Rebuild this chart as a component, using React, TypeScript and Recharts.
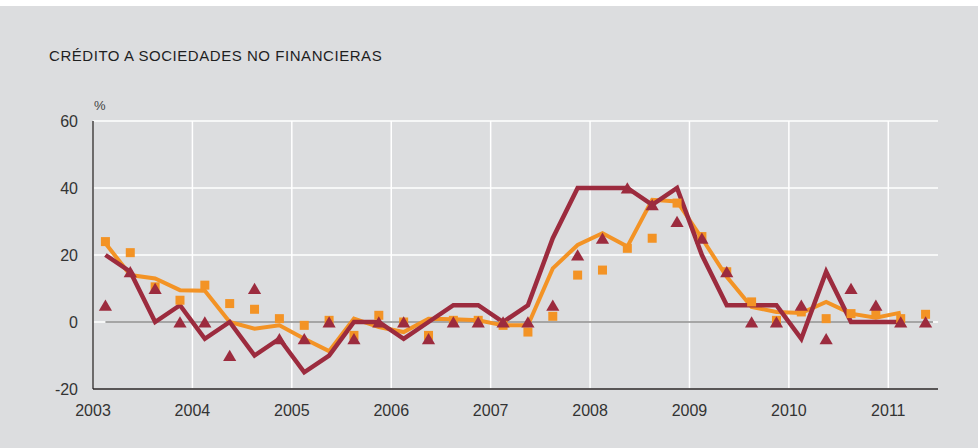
import {
  ComposedChart,
  Line,
  Scatter,
  XAxis,
  YAxis,
  CartesianGrid,
  ReferenceLine,
} from 'recharts';

const years = [2003, 2004, 2005, 2006, 2007, 2008, 2009, 2010, 2011];
const yTicks = [-20, 0, 20, 40, 60];

// quarterly observations, first one in Q1 2003
const firstQuarter = 2003.125;

const orangeLine = [
  23.5, 14, 13, 9.5, 9.3, 0, -2, -1, -5, -8.7, 1, -1.5, -3, 1, 0.8, 0.5, -1,
  -1, 16, 23, 26.5, 22.5, 36.5, 36, 25, 13.5, 4.5, 3, 2.7, 6, 2.5, 1.3, 2.8,
];
const redLine = [
  20, 15, 0, 5, -5, 0, -10, -5, -15, -10, 0, 0, -5, 0, 5, 5, 0, 5, 25, 40, 40,
  40, 35, 40, 20, 5, 5, 5, -5, 15, 0, 0, 0,
];
const squares = [
  24, 20.7, 10.5, 6.5, 11, 5.5, 3.8, 1, -1, 0.5, -4, 2, 0, -4, 0.5, 0.5, -1, -3,
  1.7, 14, 15.5, 22, 25, 35.5, 25.5, 15, 6, 0.5, 3, 1, 2.5, 2.5, 1, 2.3,
];
const triangles = [
  5, 15, 10, 0, 0, -10, 10, -5, -5, 0, -5, 0, 0, -5, 0, 0, 0, 0, 5, 20, 25, 40,
  35, 30, 25, 15, 0, 0, 5, -5, 10, 5, 0, 0,
];

const ORANGE = '#f39325';
const RED = '#9c2b3e';
const BG = '#dcdddf';
const FONT = '"Liberation Sans", Arial, sans-serif';

const data = squares.map((_, i) => ({
  x: firstQuarter + i * 0.25,
  orange: i < orangeLine.length ? orangeLine[i] : null,
  red: i < redLine.length ? redLine[i] : null,
  sq: squares[i],
  tri: triangles[i],
}));

const Square = (props: any) => {
  const { cx, cy } = props;
  if (cx == null || cy == null) return null;
  return <rect x={cx - 4.5} y={cy - 4.5} width={9} height={9} fill={ORANGE} />;
};

const Triangle = (props: any) => {
  const { cx, cy } = props;
  if (cx == null || cy == null) return null;
  const pts = `${cx},${cy - 5.8} ${cx - 6.6},${cy + 5.6} ${cx + 6.6},${cy + 5.6}`;
  return <polygon points={pts} fill={RED} />;
};

export default function App() {
  return (
    <div
      style={{
        position: 'absolute',
        left: 0,
        top: 6,
        width: 978,
        height: 442,
        background: BG,
        fontFamily: FONT,
      }}
    >
      <div
        style={{
          position: 'absolute',
          left: 49,
          top: 42,
          fontSize: 15,
          lineHeight: '15px',
          letterSpacing: 0.55,
          color: '#1f1f1f',
          whiteSpace: 'nowrap',
        }}
      >
        CRÉDITO A SOCIEDADES NO FINANCIERAS
      </div>
      <div
        style={{
          position: 'absolute',
          left: 94,
          top: 93,
          fontSize: 13,
          lineHeight: '13px',
          color: '#444',
        }}
      >
        %
      </div>
      <ComposedChart
        width={978}
        height={442}
        data={data}
        margin={{ top: 115, right: 40, bottom: 29, left: 33 }}
      >
        <CartesianGrid
          stroke="#ffffff"
          strokeWidth={1.5}
          verticalValues={years}
          horizontalValues={yTicks}
        />
        <XAxis
          dataKey="x"
          type="number"
          domain={[2003, 2011.5]}
          ticks={years}
          tickLine={false}
          tickSize={0}
          tickMargin={16}
          axisLine={{ stroke: '#231f20', strokeWidth: 1.3 }}
          tick={{ fontSize: 16, fill: '#333', fontFamily: FONT }}
          height={30}
        />
        <YAxis
          type="number"
          domain={[-20, 60]}
          ticks={yTicks}
          width={60}
          tickLine={false}
          tickSize={0}
          tickMargin={15}
          axisLine={{ stroke: '#231f20', strokeWidth: 1.3 }}
          tick={{ fontSize: 16, fill: '#333', fontFamily: FONT }}
        />
        <ReferenceLine
          segment={[
            { x: 2003.125, y: 0 },
            { x: 2011.45, y: 0 },
          ]}
          stroke="#555555"
          strokeWidth={1.2}
        />
        <Line
          dataKey="orange"
          stroke={ORANGE}
          strokeWidth={4}
          strokeLinejoin="miter"
          dot={false}
          activeDot={false}
          isAnimationActive={false}
        />
        <Line
          dataKey="red"
          stroke={RED}
          strokeWidth={4.5}
          strokeLinejoin="miter"
          dot={false}
          activeDot={false}
          isAnimationActive={false}
        />
        <Scatter dataKey="sq" shape={Square} isAnimationActive={false} />
        <Scatter dataKey="tri" shape={Triangle} isAnimationActive={false} />
      </ComposedChart>
    </div>
  );
}
